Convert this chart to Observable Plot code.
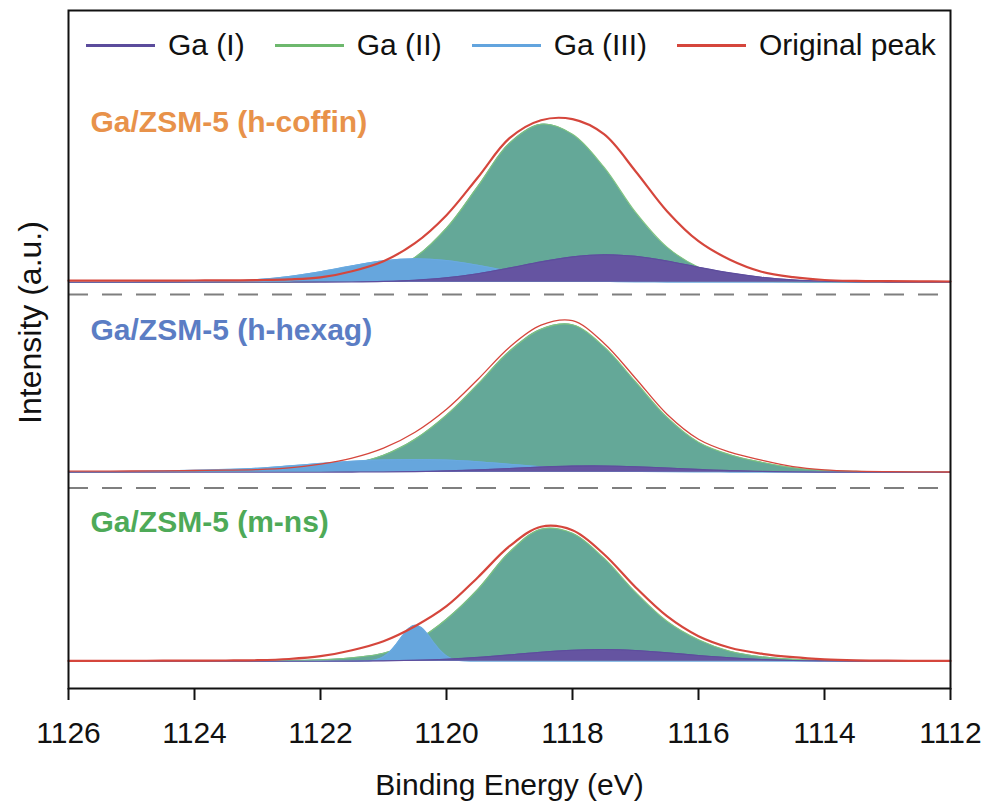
<!DOCTYPE html>
<html>
<head>
<meta charset="utf-8">
<script src="https://cdn.jsdelivr.net/npm/d3@7"></script>
<script src="https://cdn.jsdelivr.net/npm/@observablehq/plot@0.6"></script>
<style>
  html, body { margin: 0; padding: 0; background: #fff; }
  #wrap { position: relative; width: 989px; height: 803px; font-family: "Liberation Sans", Arial, sans-serif; }
  #legend { position: absolute; left: 86px; top: 28px; display: flex; align-items: center; font-size: 30px; color: #111; white-space: nowrap; }
  #legend .sw { width: 69px; height: 3px; margin-right: 13px; }
  #legend .lab { margin-right: 30px; }
</style>
</head>
<body>
<div id="wrap">
  <div id="chart"></div>
  <div id="legend"></div>
</div>
<script>
// ---------- data ----------
const energy = [1126,1125.5,1125,1124.5,1124,1123.5,1123,1122.5,1122,1121.5,1121,1120.5,1120,1119.5,1119,1118.5,1118,1117.5,1117,1116.5,1116,1115.5,1115,1114.5,1114,1113.5,1113,1112.5,1112];
const xTicks = [1126,1124,1122,1120,1118,1116,1114,1112];

const panelNames = ["Ga/ZSM-5 (h-coffin)", "Ga/ZSM-5 (h-hexag)", "Ga/ZSM-5 (m-ns)"];
const seriesNames = ["Ga (I)", "Ga (II)", "Ga (III)", "Original peak"];

// h-coffin
const coffinI    = [0,0,0,0,0,0,0,0.02,0.08,0.27,0.8,2.0,4.4,8.5,14.1,20.3,25.3,27.5,25.9,21.2,15,9.3,5.0,2.3,0.9,0.3,0.1,0,0];
const coffinII   = [0,0,0,0,0,0,0,0.1,0.7,2.8,9.3,24.8,54,96,139,158,148,115,70,35,15,4.9,1.3,0.3,0,0,0,0,0];
const coffinIII  = [0,0,0.02,0.08,0.3,1.0,2.6,5.7,10.5,16.3,21.4,23.5,21.7,16.9,11.0,6.1,2.8,1.1,0.35,0.1,0,0,0,0,0,0,0,0,0];
const coffinOrig = [1.5,1.5,1.5,1.6,1.7,1.8,2.1,2.8,4.8,11,21,39,67,105,144,162,163,148,111,71,41,22.5,10.5,5,2.2,1.3,1.0,0.8,0.7];

// h-hexag
const hexagI    = [0,0,0,0,0,0,0,0,0,0.1,0.24,0.6,1.3,2.3,3.7,5.1,6.1,6.25,5.5,4.2,2.8,1.6,0.8,0.3,0.1,0,0,0,0];
const hexagII   = [0.2,0.3,0.4,0.5,0.7,1.0,1.5,2.4,4.3,8.5,17,33,57,88,121,143,147.5,125.5,90.5,55,30,17.5,10,4.5,1.8,0.8,0.4,0.2,0.1];
const hexagIII  = [0.3,0.5,0.8,1.3,2.0,2.8,4.0,6.3,8.8,11,12.3,12.7,12.2,10.5,8,5.5,3.3,1.8,0.9,0.4,0.2,0.1,0,0,0,0,0,0,0];
const hexagOrig = [1.0,1.1,1.2,1.4,1.7,2.0,2.6,4.3,8,14,24,40,63,93,125,147,151.5,129,94,58,33,20,12,5.5,2.3,1.0,0.5,0.3,0.2];

// m-ns
const mnsI    = [0,0,0,0,0,0,0,0,0,0.1,0.35,0.9,2.0,3.8,6.3,9.0,11.0,11.7,10.7,8.4,5.7,3.4,1.7,0.7,0.3,0.1,0,0,0];
const mnsII   = [0,0,0,0,0,0,0.2,0.6,1.5,3.5,8,20,42,72,109,132,128,103,69,40,21.5,10,4.5,2,0.8,0.3,0,0,0];
const mnsIIIEnergy = [1126,1121.5,1121.4,1121.3,1121.2,1121.1,1121.0,1120.9,1120.8,1120.7,1120.6,1120.5,1120.4,1120.3,1120.2,1120.1,1120.0,1119.9,1119.8,1119.7,1119.6,1119.5,1112];
const mnsIII  = [0,0,0.05,0.2,0.6,1.8,4.5,9.4,16.7,25.3,32.7,36,33.7,27,18.4,10.7,5.3,2.2,0.8,0.25,0.08,0,0];
const mnsOrig = [0.3,0.3,0.4,0.5,0.6,0.7,1.0,2.2,5,11,20,35,55,84,115,134.5,131,107,74,45,25,13.5,7.5,4,1.9,0.9,0.5,0.4,0.3];

// vertical stacking of the three spectra (a.u.)
const panelOffsets = [379, 189, 0];
const separators = [366.7, 173.2];

// ---------- styling ----------
const compFill   = {"Ga (I)": "#6554a1", "Ga (II)": "#64a898", "Ga (III)": "#66a6dd"};
const compStroke = {"Ga (I)": "#5d4d9d", "Ga (II)": "#7fc47f", "Ga (III)": "#6aaae0"};
const legendColor = {"Ga (I)": "#5b4c9c", "Ga (II)": "#6db86d", "Ga (III)": "#62a4de", "Original peak": "#d5463c"};
const titleColor = ["#e8924a", "#5b7dc4", "#4eaa58"];
const redColor = "#d5463c";
const redWidth = [2.2, 1.3, 2.2];

// ---------- build rows ----------
const panels = [
  {I: coffinI, II: coffinII, III: coffinIII, IIIx: energy, O: coffinOrig},
  {I: hexagI,  II: hexagII,  III: hexagIII,  IIIx: energy, O: hexagOrig},
  {I: mnsI,    II: mnsII,    III: mnsIII,    IIIx: mnsIIIEnergy, O: mnsOrig}
];
function rowsFor(pi, comp, xs, vals) {
  const off = panelOffsets[pi];
  return vals.map((v, i) => ({panel: panelNames[pi], comp, energy: xs[i], base: off, top: off + v}));
}
const rows = {"Ga (I)": [], "Ga (II)": [], "Ga (III)": [], "Original peak": []};
panels.forEach((p, pi) => {
  rows["Ga (I)"].push(...rowsFor(pi, "Ga (I)", energy, p.I));
  rows["Ga (II)"].push(...rowsFor(pi, "Ga (II)", energy, p.II));
  rows["Ga (III)"].push(...rowsFor(pi, "Ga (III)", p.IIIx, p.III));
  rows["Original peak"].push(...rowsFor(pi, "Original peak", energy, p.O));
});

const curve = "catmull-rom";
const marks = [];
for (const comp of ["Ga (II)", "Ga (III)", "Ga (I)"]) {
  marks.push(Plot.areaY(rows[comp], {x: "energy", y1: "base", y2: "top", z: "panel", fill: compFill[comp], curve}));
  marks.push(Plot.lineY(rows[comp], {x: "energy", y: "top", z: "panel", stroke: compStroke[comp], strokeWidth: 1.1, curve}));
}
panelNames.forEach((name, pi) => {
  marks.push(Plot.lineY(rows["Original peak"].filter(d => d.panel === name),
    {x: "energy", y: "top", stroke: redColor, strokeWidth: redWidth[pi], curve}));
});
marks.push(Plot.ruleY(separators, {stroke: "#7f7f7f", strokeWidth: 2, strokeDasharray: "20,14"}));
marks.push(Plot.frame({stroke: "#111", strokeWidth: 2}));
marks.push(Plot.axisX({ticks: xTicks, tickSize: 12, tickPadding: 21, strokeWidth: 2, fontSize: 30, tickFormat: d3.format("d"), label: null}));
const titleDy = [112, 320, 512];
panelNames.forEach((name, pi) => {
  marks.push(Plot.text([name], {text: d => d, frameAnchor: "top-left", dx: 22, dy: titleDy[pi], textAnchor: "start", lineAnchor: "middle", fontWeight: "bold", fontSize: 30, fill: titleColor[pi]}));
});
marks.push(Plot.text(["Binding Energy (eV)"], {text: d => d, frameAnchor: "bottom", dy: 97, lineAnchor: "middle", fontSize: 30, fill: "#111"}));
marks.push(Plot.text(["Intensity (a.u.)"], {text: d => d, frameAnchor: "left", dx: -38, dy: -27, rotate: -90, textAnchor: "middle", lineAnchor: "middle", fontSize: 32, fill: "#111"}));

const chart = Plot.plot({
  width: 989,
  height: 803,
  marginLeft: 68,
  marginRight: 39,
  marginTop: 10,
  marginBottom: 115,
  x: {domain: [1126, 1112]},
  y: {domain: [-27.3, 650.7], axis: null},
  style: {fontFamily: "'Liberation Sans', Arial, sans-serif", fontSize: "30px", color: "#111", background: "#fff", overflow: "visible"},
  marks
});
document.getElementById("chart").appendChild(chart);

// legend (inside the frame, top)
const legend = document.getElementById("legend");
seriesNames.forEach(name => {
  const sw = document.createElement("span");
  sw.className = "sw";
  sw.style.background = legendColor[name];
  const lab = document.createElement("span");
  lab.className = "lab";
  lab.textContent = name;
  legend.appendChild(sw);
  legend.appendChild(lab);
});
</script>
</body>
</html>
